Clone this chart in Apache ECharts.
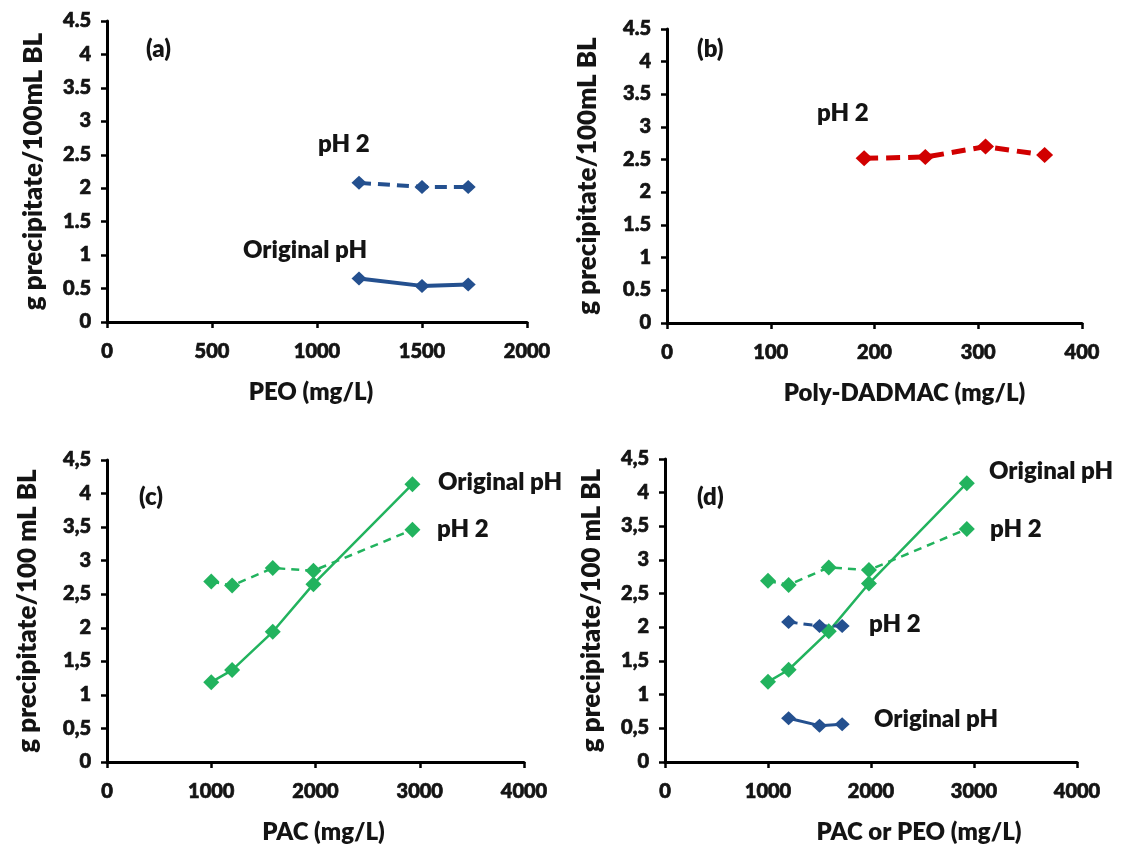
<!DOCTYPE html>
<html>
<head>
<meta charset="utf-8">
<script src="https://cdn.jsdelivr.net/npm/echarts@6/dist/echarts.min.js"></script>
<style>
html,body{margin:0;padding:0;background:#fff;}
#c{width:1126px;height:848px;}
</style>
</head>
<body>
<div id="c"></div>
<script>
// ---- data ----
const peoX = [1200, 1500, 1720];
const peoOriginal = [0.65, 0.54, 0.56];
const peoPH2 = [2.08, 2.02, 2.02];

const dadmacX = [190, 249, 307, 364];
const dadmacPH2 = [2.52, 2.54, 2.70, 2.57];

const pacX = [1000, 1200, 1590, 1980, 2930];
const pacOriginal = [1.19, 1.37, 1.94, 2.65, 4.14];
const pacPH2 = [2.69, 2.63, 2.89, 2.85, 3.46];

const yTicks = [0, 0.5, 1, 1.5, 2, 2.5, 3, 3.5, 4, 4.5];
const peoTicks = [0, 500, 1000, 1500, 2000];
const dadmacTicks = [0, 100, 200, 300, 400];
const pacTicks = [0, 1000, 2000, 3000, 4000];

const panelLetters = ['(a)', '(b)', '(c)', '(d)'];
const xNames = ['PEO (mg/L)', 'Poly-DADMAC (mg/L)', 'PAC (mg/L)', 'PAC or PEO (mg/L)'];
const yNames = ['g precipitate/100mL BL', 'g precipitate/100mL BL',
                'g precipitate/100 mL BL', 'g precipitate/100 mL BL'];

// ---- styling ----
const FONT = 'Lato';
const TXT = '#141414';
const BLUE = '#24508f';
const RED = '#d10000';
const GREEN = '#22b35e';

const grids = [
  {left: 107, top: 21, width: 420, height: 301},
  {left: 667, top: 29, width: 415, height: 294},
  {left: 107, top: 460, width: 417, height: 302},
  {left: 665, top: 459, width: 412, height: 303}
];
const xTickSets = [peoTicks, dadmacTicks, pacTicks, pacTicks];
const commaDecimal = [false, false, true, true];
const xNamePad = [[0,12,0,0],[0,0,0,60],[0,0,0,16],[0,0,0,96]];
const yNameGap = [60, 66, 66, 60];

const tickStyle = {
  fontFamily: 'Lato Heavy, Lato Black, Lato', fontWeight: 800, fontSize: 20, color: TXT,
  textBorderColor: TXT, textBorderWidth: 0.7
};

function axisCommon() {
  return {
    axisLine: {show: true, onZero: false, lineStyle: {color: '#000', width: 3}},
    axisTick: {show: true, inside: false, length: 6, lineStyle: {color: '#000', width: 2.5}},
    splitLine: {show: false}
  };
}

const xAxes = xTickSets.map((t, i) => Object.assign(axisCommon(), {
  type: 'value', gridIndex: i,
  min: t[0], max: t[t.length - 1], interval: t[1] - t[0],
  name: xNames[i], nameLocation: 'middle', nameGap: 58,
  nameTextStyle: {fontFamily: FONT, fontWeight: 800, fontSize: 24, color: TXT, padding: xNamePad[i]},
  axisLabel: Object.assign({margin: 20, formatter: v => String(v)}, tickStyle)
}));

const yAxes = grids.map((g, i) => Object.assign(axisCommon(), {
  type: 'value', gridIndex: i,
  min: yTicks[0], max: yTicks[yTicks.length - 1], interval: yTicks[1] - yTicks[0],
  name: yNames[i], nameLocation: 'middle', nameGap: yNameGap[i],
  nameTextStyle: {fontFamily: FONT, fontWeight: 800, fontSize: 26, color: TXT},
  axisLabel: Object.assign({
    margin: 16,
    formatter: v => commaDecimal[i] ? String(v).replace('.', ',') : String(v)
  }, tickStyle)
}));

function zip(xs, ys) { return xs.map((x, k) => [x, ys[k]]); }

function lineSeries(idx, xs, ys, color, width, dashed, sym) {
  return {
    type: 'line', xAxisIndex: idx, yAxisIndex: idx,
    data: zip(xs, ys),
    symbol: 'diamond', symbolSize: sym,
    itemStyle: {color: color},
    lineStyle: {color: color, width: width, type: dashed ? dashed : 'solid'},
    animation: false, silent: true
  };
}

const series = [
  lineSeries(0, peoX, peoPH2, BLUE, 4, [12, 7], [15, 14]),
  lineSeries(0, peoX, peoOriginal, BLUE, 4, null, [15, 14]),
  lineSeries(1, dadmacX, dadmacPH2, RED, 5, [14, 8], [17, 16]),
  lineSeries(2, pacX, pacPH2, GREEN, 2.5, [8, 6], [16, 16]),
  lineSeries(2, pacX, pacOriginal, GREEN, 2.5, null, [16, 16]),
  lineSeries(3, pacX, pacPH2, GREEN, 2.5, [8, 6], [16, 16]),
  lineSeries(3, pacX, pacOriginal, GREEN, 2.5, null, [16, 16]),
  lineSeries(3, peoX, peoPH2, BLUE, 3, [9, 6], [15, 14]),
  lineSeries(3, peoX, peoOriginal, BLUE, 3, null, [15, 14])
];

// text annotations (left edge x, vertical centre y)
const notes = [
  ['(a)', 146, 50], ['pH 2', 318, 145], ['Original pH', 243, 251],
  ['(b)', 697, 50], ['pH 2', 817, 114],
  ['(c)', 139, 498], ['Original pH', 438, 483], ['pH 2', 437, 530],
  ['(d)', 697, 498], ['Original pH', 989, 472], ['pH 2', 990, 530],
  ['pH 2', 869, 625], ['Original pH', 874, 720]
];

const graphic = notes.map(n => ({
  type: 'text', left: n[1], top: n[2] - 13,
  style: {text: n[0], font: '800 24px Lato', fill: TXT}
}));

const chart = echarts.init(document.getElementById('c'), null, {renderer: 'canvas'});
chart.setOption({
  backgroundColor: '#fff',
  animation: false,
  textStyle: {fontFamily: FONT, fontWeight: 700},
  grid: grids,
  xAxis: xAxes,
  yAxis: yAxes,
  series: series,
  graphic: graphic
});
</script>
</body>
</html>
